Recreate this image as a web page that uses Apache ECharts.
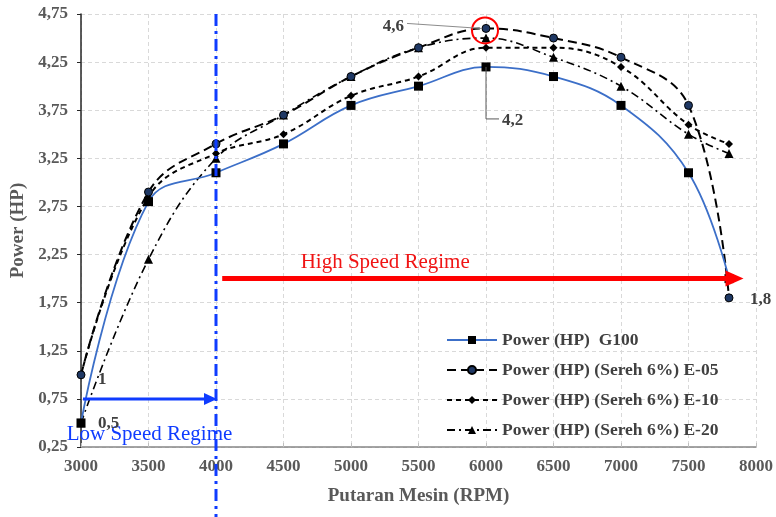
<!DOCTYPE html>
<html><head><meta charset="utf-8">
<script src="https://cdn.jsdelivr.net/npm/echarts@6/dist/echarts.min.js"></script>
<style>html,body{margin:0;padding:0;background:#fff}#c{width:776px;height:517px}</style>
</head><body><div id="c"></div>
<script>
// ---- data ----
const rpm  = [3000, 3500, 4000, 4500, 5000, 5500, 6000, 6500, 7000, 7500, 7800];
const g100 = [0.5, 2.8, 3.1, 3.4, 3.8, 4.0, 4.2, 4.1, 3.8, 3.1, 2.0];
const e05  = [1.0, 2.9, 3.4, 3.7, 4.1, 4.4, 4.6, 4.5, 4.3, 3.8, 1.8];
const e10  = [1.0, 2.85, 3.3, 3.5, 3.9, 4.1, 4.4, 4.4, 4.2, 3.6, 3.4];
const e20  = [0.5, 2.2, 3.25, 3.7, 4.1, 4.4, 4.5, 4.3, 4.0, 3.5, 3.3];
const seriesNames = ['Power (HP)  G100', 'Power (HP) (Sereh 6%) E-05', 'Power (HP) (Sereh 6%) E-10', 'Power (HP) (Sereh 6%) E-20'];
const xTickMin = 3000, xTickMax = 8000, xTickStep = 500;
const yTickMin = 0.25, yTickMax = 4.75, yTickStep = 0.5;
const xTitle = 'Putaran Mesin (RPM)';
const yTitle = 'Power (HP)';
const lowRegime  = { text: 'Low Speed Regime',  from: 3000, to: 4000, y: 0.75 };
const highRegime = { text: 'High Speed Regime', from: 4046, to: 7900, y: 2.0 };
const regimeBoundary = 4000;
const callouts = [
  { text: '4,6', x: 6000, y: 4.6 },
  { text: '4,2', x: 6000, y: 4.2 },
  { text: '1,8', x: 7800, y: 1.8 },
  { text: '1',   x: 3000, y: 1.0 },
  { text: '0,5', x: 3000, y: 0.5 }
];

const FONT = 'Liberation Serif';
const pairs = arr => rpm.map((x, i) => [x, arr[i]]);

const chart = echarts.init(document.getElementById('c'), null, { renderer: 'canvas' });
const option = {
  animation: false,
  backgroundColor: '#ffffff',
  grid: { left: 81, right: 18, top: 14, bottom: 70 },
  legend: {
    orient: 'vertical', left: 441, top: 326,
    itemWidth: 50, itemHeight: 10, itemGap: 12,
    selectedMode: false,
    textStyle: { color: '#404040', fontFamily: FONT, fontWeight: 'bold', fontSize: 17.5 },
    data: seriesNames
  },
  xAxis: {
    type: 'value', min: xTickMin, max: xTickMax, interval: xTickStep,
    axisLine: { show: true, lineStyle: { color: '#868686', width: 1.5 } },
    axisTick: { show: true, inside: true, length: 4, lineStyle: { color: '#bfbfbf' } },
    splitLine: { show: true, lineStyle: { color: '#d9d9d9', type: [4, 3] } },
    axisLabel: { color: '#595959', fontFamily: FONT, fontWeight: 'bold', fontSize: 17, margin: 11,
      formatter: v => String(v) },
    name: xTitle, nameLocation: 'middle', nameGap: 40,
    nameTextStyle: { color: '#595959', fontFamily: FONT, fontWeight: 'bold', fontSize: 19 }
  },
  yAxis: {
    type: 'value', min: yTickMin, max: yTickMax, interval: yTickStep,
    axisLine: { show: true, lineStyle: { color: '#262626', width: 1.5 } },
    axisTick: { show: true, length: 4, lineStyle: { color: '#262626' } },
    splitLine: { show: true, lineStyle: { color: '#d9d9d9', type: [4, 3] } },
    axisLabel: { color: '#595959', fontFamily: FONT, fontWeight: 'bold', fontSize: 17, margin: 13,
      formatter: v => v.toFixed(2).replace('.', ',') },
    name: yTitle, nameLocation: 'middle', nameGap: 50,
    nameTextStyle: { color: '#595959', fontFamily: FONT, fontWeight: 'bold', fontSize: 19 }
  },
  series: [
    { name: seriesNames[0], type: 'line', data: pairs(g100), smooth: 0.4,
      symbol: 'rect', symbolSize: 9, itemStyle: { color: '#000' },
      lineStyle: { color: '#3c6fc8', width: 1.8 }, z: 5 },
    { name: seriesNames[1], type: 'line', data: pairs(e05), smooth: 0.4,
      symbol: 'circle', symbolSize: 8, itemStyle: { color: '#1f3864', borderColor: '#000', borderWidth: 1 },
      lineStyle: { color: '#000', width: 2, type: [9, 5] }, z: 4 },
    { name: seriesNames[2], type: 'line', data: pairs(e10), smooth: 0.4,
      symbol: 'diamond', symbolSize: 8, itemStyle: { color: '#000' },
      lineStyle: { color: '#000', width: 2, type: [5, 4] }, z: 3 },
    { name: seriesNames[3], type: 'line', data: pairs(e20), smooth: 0.4,
      symbol: 'triangle', symbolSize: 9, itemStyle: { color: '#000' },
      lineStyle: { color: '#000', width: 1.6, type: [8, 4, 2, 4] }, z: 2 }
  ]
};
chart.setOption(option);

const px = (x, y) => chart.convertToPixel({ gridIndex: 0 }, [x, y]);
const H = chart.getHeight();
const g = [];
const BLUE = '#0f3cff', RED = '#ff0000', GREY = '#404040';

// boundary line
const bTop = px(regimeBoundary, yTickMax), bx = bTop[0];
g.push({ type: 'line', z: 100, shape: { x1: bx, y1: bTop[1], x2: bx, y2: H },
  style: { stroke: BLUE, lineWidth: 3, lineDash: [12, 5, 3, 5] } });

// low regime arrow
const la = px(lowRegime.from, lowRegime.y), lb = px(lowRegime.to, lowRegime.y);
g.push({ type: 'line', z: 101, shape: { x1: la[0] + 2, y1: la[1], x2: lb[0] - 10, y2: lb[1] },
  style: { stroke: BLUE, lineWidth: 3 } });
g.push({ type: 'polygon', z: 101, shape: { points: [[lb[0] + 1, lb[1]], [lb[0] - 12, lb[1] - 6], [lb[0] - 12, lb[1] + 6]] },
  style: { fill: BLUE } });
g.push({ type: 'text', z: 102, x: (la[0] + lb[0]) / 2 + 1, y: la[1] + 36,
  style: { text: lowRegime.text, fill: BLUE, font: '21px "' + FONT + '"', align: 'center', verticalAlign: 'middle' } });

// high regime arrow
const ha = px(highRegime.from, highRegime.y), hb = px(highRegime.to, highRegime.y);
g.push({ type: 'line', z: 101, shape: { x1: ha[0], y1: ha[1], x2: hb[0] - 14, y2: hb[1] },
  style: { stroke: RED, lineWidth: 5 } });
g.push({ type: 'polygon', z: 101, shape: { points: [[hb[0] + 1, hb[1]], [hb[0] - 17, hb[1] - 8], [hb[0] - 17, hb[1] + 8]] },
  style: { fill: RED } });
g.push({ type: 'text', z: 102, x: ha[0] + 163, y: ha[1] - 16,
  style: { text: highRegime.text, fill: '#f01414', font: '21px "' + FONT + '"', align: 'center', verticalAlign: 'middle' } });

// callouts
const lbl = (x, y, t, align) => ({ type: 'text', z: 103, x, y,
  style: { text: t, fill: GREY, font: 'bold 17px "' + FONT + '"', align: align || 'left', verticalAlign: 'middle' } });
const c46 = px(callouts[0].x, callouts[0].y);
g.push({ type: 'circle', z: 103, shape: { cx: c46[0] - 1, cy: c46[1] + 2, r: 13 }, style: { fill: 'none', stroke: RED, lineWidth: 2 } });
g.push({ type: 'line', z: 103, shape: { x1: c46[0] - 79, y1: c46[1] - 5, x2: c46[0] - 5, y2: c46[1] }, style: { stroke: '#8c8c8c', lineWidth: 1 } });
g.push(lbl(c46[0] - 82, c46[1] - 2, callouts[0].text, 'right'));
const c42 = px(callouts[1].x, callouts[1].y);
g.push({ type: 'polyline', z: 103, shape: { points: [[c42[0], c42[1]], [c42[0], c42[1] + 52], [c42[0] + 13, c42[1] + 52]] }, style: { stroke: '#595959', lineWidth: 1, fill: 'none' } });
g.push(lbl(c42[0] + 16, c42[1] + 54, callouts[1].text));
const c18 = px(callouts[2].x, callouts[2].y);
g.push(lbl(c18[0] + 21, c18[1] + 2, callouts[2].text));
const c1 = px(callouts[3].x, callouts[3].y);
g.push(lbl(c1[0] + 17, c1[1] + 5, callouts[3].text));
const c05 = px(callouts[4].x, callouts[4].y);
g.push(lbl(c05[0] + 17, c05[1] + 1, callouts[4].text));

chart.setOption({ graphic: g });
</script>
</body></html>
